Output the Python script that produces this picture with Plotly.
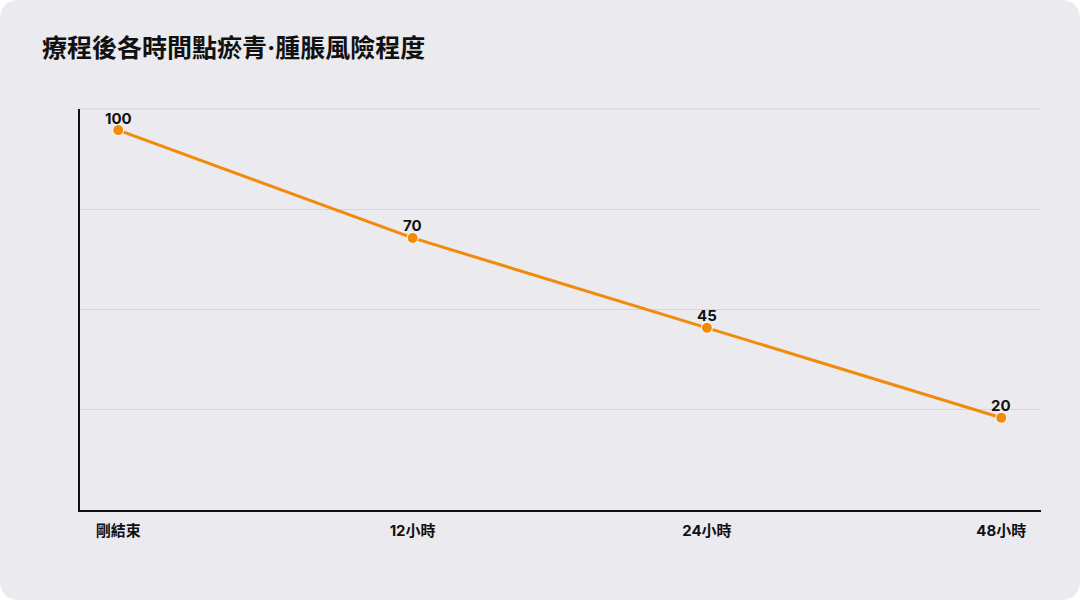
import plotly.graph_objects as go

# data
time_points = ["剛結束", "12小時", "24小時", "48小時"]
risk_level = [100, 70, 45, 20]

title_text = "療程後各時間點瘀青·腫脹風險程度"

ORANGE = "#f28a0b"
BG = "#ebeaef"
GRID = "#d6d5da"
FONT = "Inter, 'Noto Sans CJK TC', sans-serif"

y_lo, y_hi = -5.65, 105.85
grid_vals = [y_lo + k * (y_hi - y_lo) / 4 for k in range(1, 4)]

fig = go.Figure()
fig.add_trace(go.Scatter(
    x=list(range(len(time_points))),
    y=risk_level,
    mode="lines+markers",
    line=dict(color=ORANGE, width=3),
    marker=dict(size=11, color=ORANGE, line=dict(color="white", width=1)),
    cliponaxis=False,
    hoverinfo="skip",
    showlegend=False,
))

for i, v in enumerate(risk_level):
    fig.add_annotation(
        x=i, y=v, text=str(v), showarrow=False,
        yshift=12, yanchor="middle",
        font=dict(family=FONT, size=15, color="#111111", weight="bold"),
    )

# rounded card behind everything, in paper coords
W, H = 1080, 600
ml, mr, mt, mb = 80, 39, 109, 90
pw, ph = W - ml - mr, H - mt - mb


def px(x):
    return (x - ml) / pw


def py(y):
    return (H - mb - y) / ph


r = 20
path = (
    f"M {px(r)},{py(0)} L {px(W - r)},{py(0)} Q {px(W)},{py(0)} {px(W)},{py(r)} "
    f"L {px(W)},{py(H - r)} Q {px(W)},{py(H)} {px(W - r)},{py(H)} "
    f"L {px(r)},{py(H)} Q {px(0)},{py(H)} {px(0)},{py(H - r)} "
    f"L {px(0)},{py(r)} Q {px(0)},{py(0)} {px(r)},{py(0)} Z"
)
fig.add_shape(type="path", path=path, xref="paper", yref="paper",
              fillcolor=BG, line=dict(width=0), layer="below")
# top gridline sits on the plot edge, plotly skips it
fig.add_shape(type="line", xref="paper", yref="paper", x0=0, x1=1, y0=1, y1=1,
              line=dict(color=GRID, width=1), layer="below")

fig.update_layout(
    width=W, height=H,
    margin=dict(l=ml, r=mr, t=mt, b=mb),
    paper_bgcolor="white",
    plot_bgcolor="rgba(0,0,0,0)",
    title=dict(
        text=title_text,
        x=42 / W, xanchor="left", xref="container",
        y=1 - 48 / H, yanchor="middle", yref="container",
        font=dict(family=FONT, size=25, color="#111111", weight="bold"),
    ),
    xaxis=dict(
        range=[-0.13, 3.135],
        tickvals=list(range(len(time_points))),
        ticktext=time_points,
        showgrid=False, zeroline=False,
        showline=True, linecolor="#111111", linewidth=2,
        ticks="", ticklen=0, ticklabelstandoff=6,
        tickfont=dict(family=FONT, size=15, color="#111111", weight="bold"),
    ),
    yaxis=dict(
        range=[y_lo, y_hi],
        tickvals=grid_vals,
        showticklabels=False,
        showgrid=True, gridcolor=GRID, gridwidth=1,
        zeroline=False,
        showline=True, linecolor="#111111", linewidth=2,
        ticks="",
    ),
)

fig.write_html("out.html", config={"displayModeBar": False},
               post_script="document.body.style.margin='0';")
